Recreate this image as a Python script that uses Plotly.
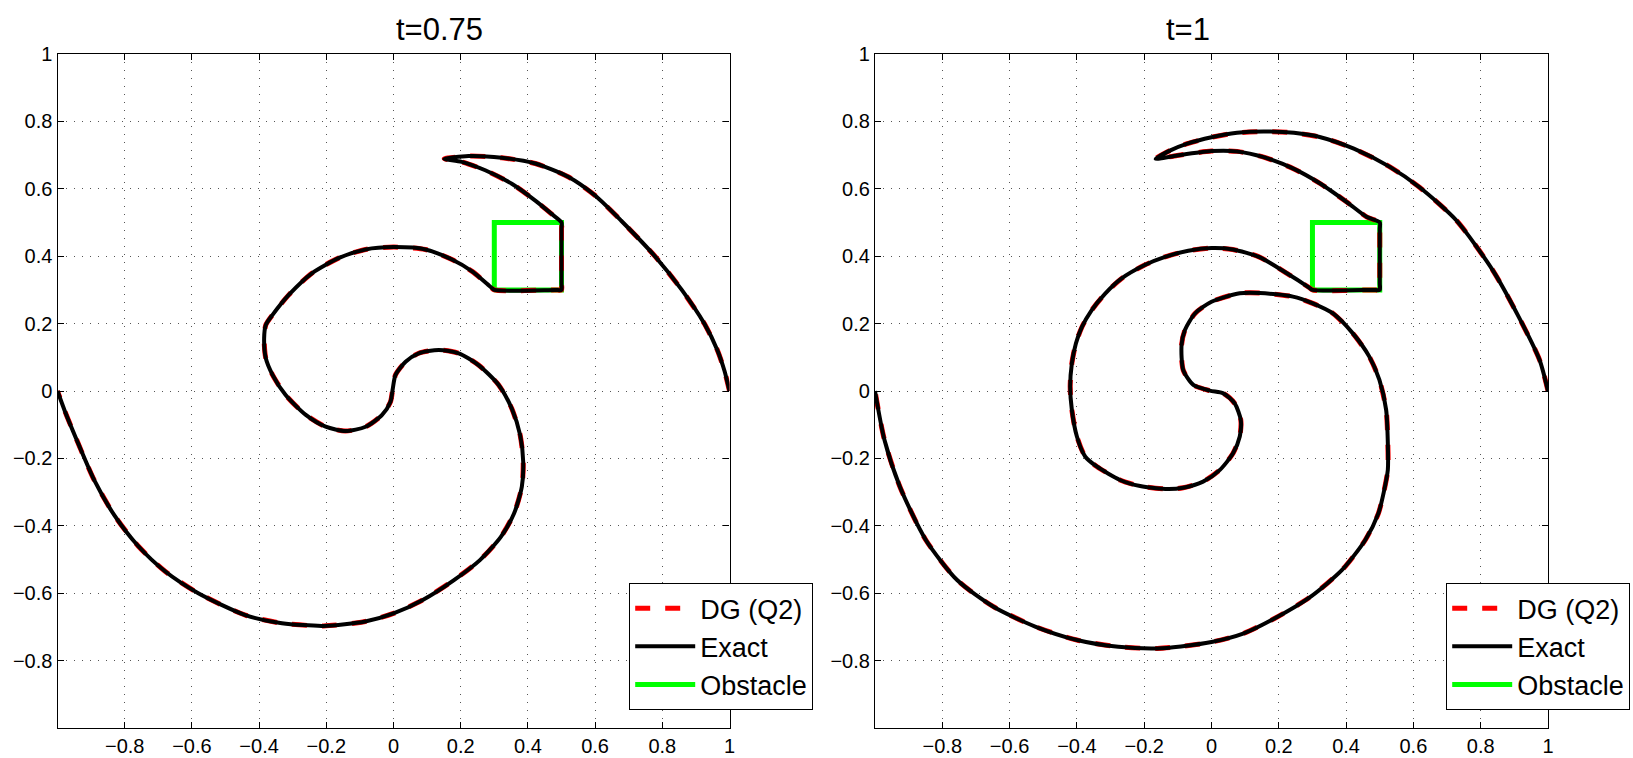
import plotly.graph_objects as go

# ---- data: interface curve at t=0.75 (exact; DG overlays it) ----
x_t075 = [1.0, 0.985, 0.964, 0.925, 0.858, 0.778, 0.677, 0.6, 0.521, 0.422, 0.322, 0.223, 0.151,
          0.203, 0.273, 0.352, 0.422, 0.471, 0.5, 0.5, 0.5, 0.5, 0.48, 0.3, 0.29, 0.234, 0.174, 0.095, 0.0, -0.083,
          -0.162, -0.242, -0.311, -0.36, -0.38, -0.385, -0.38, -0.36, -0.321, -0.261, -0.202,
          -0.143, -0.083, -0.034, -0.009, -0.002, 0.006, 0.036, 0.075, 0.135, 0.194, 0.253,
          0.313, 0.352, 0.377, 0.386, 0.382, 0.359, 0.320, 0.258, 0.180, 0.087, 0.0, -0.084,
          -0.208, -0.332, -0.441, -0.581, -0.68, -0.76, -0.83, -0.891, -0.945, -0.978, -1.0]
y_t075 = [0.0, 0.06, 0.121, 0.2, 0.30, 0.4, 0.506, 0.58, 0.635, 0.675, 0.692, 0.697, 0.689,
          0.68, 0.655, 0.615, 0.565, 0.525, 0.5, 0.48, 0.32, 0.3, 0.3, 0.3, 0.308, 0.355, 0.39, 0.42, 0.427, 0.42,
          0.395, 0.35, 0.286, 0.226, 0.196, 0.157, 0.097, 0.048, -0.012, -0.071, -0.106,
          -0.119, -0.106, -0.071, -0.032, 0.008, 0.048, 0.087, 0.112, 0.122, 0.112, 0.077,
          0.018, -0.052, -0.131, -0.21, -0.284, -0.363, -0.432, -0.501, -0.561, -0.620, -0.660,
          -0.684, -0.697, -0.689, -0.665, -0.600, -0.535, -0.46, -0.37, -0.264, -0.14, -0.06, 0.0]

# ---- data: interface curve at t=1 ----
x_t1 = [1.0, 0.975, 0.913, 0.836, 0.728, 0.62, 0.53, 0.423, 0.324, 0.245, 0.155, 0.076, 0.0,
        -0.072, -0.122, -0.166, -0.102, 0.0, 0.076, 0.155, 0.245, 0.324, 0.403, 0.462, 0.5,
        0.5, 0.5, 0.5, 0.48, 0.3, 0.29, 0.218, 0.141, 0.063, 0.0, -0.069, -0.138, -0.2, -0.267,
        -0.316, -0.356, -0.385, -0.403, -0.415, -0.42, -0.415, -0.4, -0.375, -0.341, -0.272,
        -0.212, -0.13, -0.084, -0.025,
        0.025, 0.064, 0.084, 0.087, 0.069, 0.035, -0.005, -0.054, -0.084, -0.089, -0.079,
        -0.049, 0.0, 0.084, 0.143, 0.242, 0.301, 0.361, 0.42, 0.469, 0.499, 0.519, 0.524,
        0.524, 0.512, 0.496, 0.457, 0.388, 0.295, 0.187, 0.094, 0.0, -0.091, -0.161, -0.277,
        -0.400, -0.524, -0.648, -0.756, -0.849, -0.926, -0.972, -1.0]
y_t1 = [0.0, 0.092, 0.220, 0.358, 0.506, 0.603, 0.665, 0.719, 0.753, 0.766, 0.770, 0.766, 0.753,
        0.734, 0.714, 0.689, 0.699, 0.712, 0.711, 0.694, 0.659, 0.615, 0.56, 0.516, 0.5,
        0.48, 0.32, 0.3, 0.3, 0.3, 0.307, 0.353, 0.398, 0.420, 0.424, 0.416, 0.398, 0.373, 0.334,
        0.289, 0.24, 0.19, 0.141, 0.082, 0.013, -0.056, -0.135, -0.195, -0.224, -0.264,
        -0.282, -0.291, -0.287, -0.269,
        -0.234, -0.185, -0.135, -0.086, -0.037, -0.007, 0.001, 0.018, 0.062, 0.136, 0.181,
        0.23, 0.265, 0.29, 0.291, 0.28, 0.26, 0.23, 0.171, 0.102, 0.033, -0.056, -0.155,
        -0.234, -0.30, -0.363, -0.442, -0.531, -0.610, -0.675, -0.72, -0.745, -0.758, -0.764,
        -0.759, -0.739, -0.699, -0.640, -0.561, -0.442, -0.284, -0.145, 0.0]

# ---- obstacle square ----
x_obstacle = [0.3, 0.5, 0.5, 0.3, 0.3]
y_obstacle = [0.3, 0.3, 0.5, 0.5, 0.3]

titles = ["t=0.75", "t=1"]
tick_vals = [-0.8, -0.6, -0.4, -0.2, 0, 0.2, 0.4, 0.6, 0.8, 1]
tick_text = ["\u22120.8", "\u22120.6", "\u22120.4", "\u22120.2", "0", "0.2", "0.4", "0.6", "0.8", "1"]

FONT = "Liberation Sans, Arial, Helvetica, sans-serif"

fig = go.Figure()
panels = [(x_t075, y_t075, "x", "y", "legend"), (x_t1, y_t1, "x2", "y2", "legend2")]
for xs, ys, xa, ya, lg in panels:
    fig.add_trace(go.Scatter(x=x_obstacle, y=y_obstacle, mode="lines", name="Obstacle",
                             line=dict(color="#00ff00", width=5), xaxis=xa, yaxis=ya,
                             legend=lg, legendrank=3))
    fig.add_trace(go.Scatter(x=xs, y=ys, mode="lines", name="DG (Q2)",
                             line=dict(color="#ff0000", width=5, dash="dash", shape="spline", smoothing=0.7),
                             xaxis=xa, yaxis=ya, legend=lg, legendrank=1))
    fig.add_trace(go.Scatter(x=xs, y=ys, mode="lines", name="Exact",
                             line=dict(color="#000000", width=4, shape="spline", smoothing=0.7),
                             xaxis=xa, yaxis=ya, legend=lg, legendrank=2))

axis_common = dict(range=[-1, 1], showgrid=True, gridcolor="#555555", griddash="1px,7px", gridwidth=1,
                   zeroline=False, showline=True, linecolor="black", linewidth=1.2, mirror="allticks",
                   ticks="inside", ticklen=6, tickcolor="black", tickvals=tick_vals, ticktext=tick_text,
                   tickfont=dict(family=FONT, size=20, color="black"), automargin=False)

dom1 = [57.5 / 1633, 729.5 / 1633]
dom2 = [875 / 1633, 1548 / 1633]
ydom = [1 - 728 / 758, 1 - 54 / 758]

legend_common = dict(bgcolor="white", bordercolor="black", borderwidth=1.2,
                     font=dict(family=FONT, size=27, color="black"),
                     yanchor="bottom", xanchor="right", itemwidth=60, tracegroupgap=0,
                     traceorder="normal")

fig.update_layout(
    width=1633, height=758,
    margin=dict(l=0, r=0, t=0, b=0),
    paper_bgcolor="white", plot_bgcolor="white",
    font=dict(family=FONT, color="black"),
    xaxis=dict(domain=dom1, anchor="y", ticklabelstandoff=0, **axis_common),
    yaxis=dict(domain=ydom, anchor="x", ticklabelstandoff=0, **axis_common),
    xaxis2=dict(domain=dom2, anchor="y2", ticklabelstandoff=0, **axis_common),
    yaxis2=dict(domain=ydom, anchor="x2", ticklabelstandoff=0, **axis_common),
    legend=dict(x=813 / 1633, y=1 - 710 / 758, **legend_common),
    legend2=dict(x=1630 / 1633, y=1 - 710 / 758, **legend_common),
    annotations=[
        dict(text=titles[0], x=(dom1[0] + dom1[1]) / 2, y=1 - 29 / 758, xref="paper", yref="paper",
             showarrow=False, font=dict(family=FONT, size=31, color="black"), yanchor="middle"),
        dict(text=titles[1], x=(dom2[0] + dom2[1]) / 2, y=1 - 29 / 758, xref="paper", yref="paper",
             showarrow=False, font=dict(family=FONT, size=31, color="black"), yanchor="middle"),
    ],
    showlegend=True,
)

fig.write_html("out.html", config={"displayModeBar": False},
               post_script="document.body.style.margin='0px';")
